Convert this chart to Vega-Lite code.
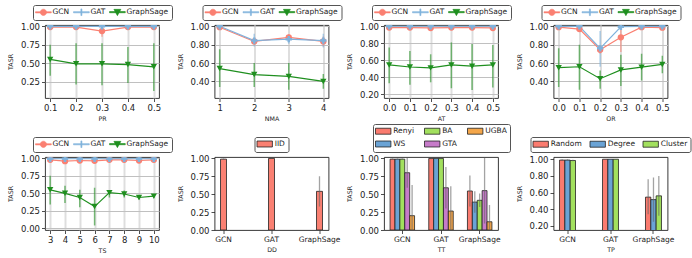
{
  "$schema": "https://vega.github.io/schema/vega-lite/v6.json",
  "padding": {"left": 7, "top": 4, "right": 0, "bottom": 0},
  "concat": [
    {
      "width": 114, "height": 73,
      "data": {"values": [
        {"x": 0.1, "model": "GCN", "mean": 0.99, "lo": 0.98, "hi": 1.0},
        {"x": 0.2, "model": "GCN", "mean": 0.99, "lo": 0.98, "hi": 1.0},
        {"x": 0.3, "model": "GCN", "mean": 0.935, "lo": 0.86, "hi": 1.0},
        {"x": 0.4, "model": "GCN", "mean": 0.99, "lo": 0.98, "hi": 1.0},
        {"x": 0.5, "model": "GCN", "mean": 0.99, "lo": 0.98, "hi": 1.0},
        {"x": 0.1, "model": "GAT", "mean": 1.0, "lo": 0.995, "hi": 1.0},
        {"x": 0.2, "model": "GAT", "mean": 1.0, "lo": 0.995, "hi": 1.0},
        {"x": 0.3, "model": "GAT", "mean": 1.0, "lo": 0.995, "hi": 1.0},
        {"x": 0.4, "model": "GAT", "mean": 1.0, "lo": 0.995, "hi": 1.0},
        {"x": 0.5, "model": "GAT", "mean": 1.0, "lo": 0.995, "hi": 1.0},
        {"x": 0.1, "model": "GraphSage", "mean": 0.55, "lo": 0.33, "hi": 0.75},
        {"x": 0.2, "model": "GraphSage", "mean": 0.49, "lo": 0.21, "hi": 0.77},
        {"x": 0.3, "model": "GraphSage", "mean": 0.49, "lo": 0.2, "hi": 0.77},
        {"x": 0.4, "model": "GraphSage", "mean": 0.48, "lo": 0.23, "hi": 0.72},
        {"x": 0.5, "model": "GraphSage", "mean": 0.45, "lo": 0.12, "hi": 0.77}
      ]},
      "encoding": {
        "x": {"field": "x", "type": "quantitative", "scale": {"domain": [0.08, 0.52], "nice": false, "zero": false}, "axis": {"title": "PR", "values": [0.1, 0.2, 0.3, 0.4, 0.5], "tickCount": 20, "format": ".1f", "grid": true, "gridColor": "#dedede", "gridWidth": 2, "labelOverlap": false}},
        "color": {"field": "model", "type": "nominal", "scale": {"domain": ["GCN", "GAT", "GraphSage"], "range": ["#fa8072", "#7fb2dc", "#1f8f1f"]}, "legend": {"title": null, "direction": "horizontal", "symbolOffset": 3.4, "labelOffset": 5, "columnPadding": 2, "symbolOpacity": 1, "symbolStrokeWidth": 0.6}}
      },
      "layer": [
        {"mark": {"type": "rule", "strokeWidth": 1.5, "opacity": 0.6, "clip": true}, "encoding": {"y": {"field": "lo", "type": "quantitative", "scale": {"domain": [0.026, 1.018], "nice": false, "zero": false}, "axis": {"title": "TASR", "values": [0.25, 0.5, 0.75, 1.0], "tickCount": 20, "format": ".2f", "grid": true, "gridColor": "#c0c0c0", "gridWidth": 1, "labelOverlap": false}}, "y2": {"field": "hi"}}},
        {"mark": {"type": "line", "strokeWidth": 1.2, "clip": true}, "encoding": {"y": {"field": "mean", "type": "quantitative"}}},
        {"mark": {"type": "point", "filled": true, "opacity": 0, "clip": true}, "encoding": {"y": {"field": "mean", "type": "quantitative"}, "shape": {"field": "model", "type": "nominal", "scale": {"domain": ["GCN", "GAT", "GraphSage"], "range": ["M-2.25,-0.17H2.25V0.17H-2.25ZM0.9,0A0.9,0.9,0,1,1,-0.9,0A0.9,0.9,0,1,1,0.9,0Z", "M-2.25,-0.17H2.25V0.17H-2.25ZM-0.15,-0.95H0.15V0.95H-0.15Z", "M-2.25,-0.17H2.25V0.17H-2.25ZM-1,-0.8H1L0,1Z"]}, "legend": {"title": null, "direction": "horizontal", "symbolOffset": 3.4, "labelOffset": 5, "columnPadding": 2, "symbolOpacity": 1, "symbolStrokeWidth": 0.6}}}},
        {"mark": {"type": "point", "filled": true, "opacity": 1, "size": 40, "clip": true}, "encoding": {"y": {"field": "mean", "type": "quantitative"}, "shape": {"condition": [{"test": "datum.model === 'GCN'", "value": "circle"}, {"test": "datum.model === 'GAT'", "value": "cross"}], "value": "triangle-down"}}}
      ]
    },
    {
      "width": 114, "height": 73,
      "data": {"values": [
        {"x": 1, "model": "GCN", "mean": 0.99, "lo": 0.98, "hi": 1.0},
        {"x": 2, "model": "GCN", "mean": 0.835, "lo": 0.8, "hi": 0.87},
        {"x": 3, "model": "GCN", "mean": 0.88, "lo": 0.85, "hi": 0.91},
        {"x": 4, "model": "GCN", "mean": 0.835, "lo": 0.78, "hi": 0.89},
        {"x": 1, "model": "GAT", "mean": 1.0, "lo": 0.99, "hi": 1.0},
        {"x": 2, "model": "GAT", "mean": 0.845, "lo": 0.78, "hi": 0.92},
        {"x": 3, "model": "GAT", "mean": 0.86, "lo": 0.81, "hi": 0.91},
        {"x": 4, "model": "GAT", "mean": 0.845, "lo": 0.77, "hi": 0.92},
        {"x": 1, "model": "GraphSage", "mean": 0.54, "lo": 0.34, "hi": 0.75},
        {"x": 2, "model": "GraphSage", "mean": 0.475, "lo": 0.34, "hi": 0.6},
        {"x": 3, "model": "GraphSage", "mean": 0.455, "lo": 0.31, "hi": 0.6},
        {"x": 4, "model": "GraphSage", "mean": 0.4, "lo": 0.32, "hi": 0.48}
      ]},
      "encoding": {
        "x": {"field": "x", "type": "quantitative", "scale": {"domain": [0.85, 4.15], "nice": false, "zero": false}, "axis": {"title": "NMA", "values": [1, 2, 3, 4], "tickCount": 20, "format": "d", "grid": true, "gridColor": "#dedede", "gridWidth": 2, "labelOverlap": false}},
        "color": {"field": "model", "type": "nominal", "scale": {"domain": ["GCN", "GAT", "GraphSage"], "range": ["#fa8072", "#7fb2dc", "#1f8f1f"]}, "legend": {"title": null, "direction": "horizontal", "symbolOffset": 3.4, "labelOffset": 5, "columnPadding": 2, "symbolOpacity": 1, "symbolStrokeWidth": 0.6}}
      },
      "layer": [
        {"mark": {"type": "rule", "strokeWidth": 1.5, "opacity": 0.6, "clip": true}, "encoding": {"y": {"field": "lo", "type": "quantitative", "scale": {"domain": [0.22, 1.014], "nice": false, "zero": false}, "axis": {"title": "TASR", "values": [0.4, 0.6, 0.8, 1.0], "tickCount": 20, "format": ".2f", "grid": true, "gridColor": "#c0c0c0", "gridWidth": 1, "labelOverlap": false}}, "y2": {"field": "hi"}}},
        {"mark": {"type": "line", "strokeWidth": 1.2, "clip": true}, "encoding": {"y": {"field": "mean", "type": "quantitative"}}},
        {"mark": {"type": "point", "filled": true, "opacity": 0, "clip": true}, "encoding": {"y": {"field": "mean", "type": "quantitative"}, "shape": {"field": "model", "type": "nominal", "scale": {"domain": ["GCN", "GAT", "GraphSage"], "range": ["M-2.25,-0.17H2.25V0.17H-2.25ZM0.9,0A0.9,0.9,0,1,1,-0.9,0A0.9,0.9,0,1,1,0.9,0Z", "M-2.25,-0.17H2.25V0.17H-2.25ZM-0.15,-0.95H0.15V0.95H-0.15Z", "M-2.25,-0.17H2.25V0.17H-2.25ZM-1,-0.8H1L0,1Z"]}, "legend": {"title": null, "direction": "horizontal", "symbolOffset": 3.4, "labelOffset": 5, "columnPadding": 2, "symbolOpacity": 1, "symbolStrokeWidth": 0.6}}}},
        {"mark": {"type": "point", "filled": true, "opacity": 1, "size": 40, "clip": true}, "encoding": {"y": {"field": "mean", "type": "quantitative"}, "shape": {"condition": [{"test": "datum.model === 'GCN'", "value": "circle"}, {"test": "datum.model === 'GAT'", "value": "cross"}], "value": "triangle-down"}}}
      ]
    },
    {
      "width": 114, "height": 73,
      "data": {"values": [
        {"x": 0.0, "model": "GCN", "mean": 0.985, "lo": 0.975, "hi": 0.995},
        {"x": 0.1, "model": "GCN", "mean": 0.985, "lo": 0.975, "hi": 0.995},
        {"x": 0.2, "model": "GCN", "mean": 0.98, "lo": 0.97, "hi": 0.99},
        {"x": 0.3, "model": "GCN", "mean": 0.985, "lo": 0.975, "hi": 0.995},
        {"x": 0.4, "model": "GCN", "mean": 0.985, "lo": 0.975, "hi": 0.995},
        {"x": 0.5, "model": "GCN", "mean": 0.98, "lo": 0.97, "hi": 0.99},
        {"x": 0.0, "model": "GAT", "mean": 1.0, "lo": 0.995, "hi": 1.0},
        {"x": 0.1, "model": "GAT", "mean": 1.0, "lo": 0.995, "hi": 1.0},
        {"x": 0.2, "model": "GAT", "mean": 1.0, "lo": 0.995, "hi": 1.0},
        {"x": 0.3, "model": "GAT", "mean": 1.0, "lo": 0.995, "hi": 1.0},
        {"x": 0.4, "model": "GAT", "mean": 1.0, "lo": 0.995, "hi": 1.0},
        {"x": 0.5, "model": "GAT", "mean": 1.0, "lo": 0.995, "hi": 1.0},
        {"x": 0.0, "model": "GraphSage", "mean": 0.545, "lo": 0.33, "hi": 0.75},
        {"x": 0.1, "model": "GraphSage", "mean": 0.52, "lo": 0.31, "hi": 0.71},
        {"x": 0.2, "model": "GraphSage", "mean": 0.51, "lo": 0.34, "hi": 0.67},
        {"x": 0.3, "model": "GraphSage", "mean": 0.545, "lo": 0.27, "hi": 0.81},
        {"x": 0.4, "model": "GraphSage", "mean": 0.53, "lo": 0.25, "hi": 0.79},
        {"x": 0.5, "model": "GraphSage", "mean": 0.545, "lo": 0.28, "hi": 0.78}
      ]},
      "encoding": {
        "x": {"field": "x", "type": "quantitative", "scale": {"domain": [-0.025, 0.525], "nice": false, "zero": false}, "axis": {"title": "AT", "values": [0, 0.1, 0.2, 0.3, 0.4, 0.5], "tickCount": 20, "format": ".1f", "grid": true, "gridColor": "#dedede", "gridWidth": 2, "labelOverlap": false}},
        "color": {"field": "model", "type": "nominal", "scale": {"domain": ["GCN", "GAT", "GraphSage"], "range": ["#fa8072", "#7fb2dc", "#1f8f1f"]}, "legend": {"title": null, "direction": "horizontal", "symbolOffset": 3.4, "labelOffset": 5, "columnPadding": 2, "symbolOpacity": 1, "symbolStrokeWidth": 0.6}}
      },
      "layer": [
        {"mark": {"type": "rule", "strokeWidth": 1.5, "opacity": 0.6, "clip": true}, "encoding": {"y": {"field": "lo", "type": "quantitative", "scale": {"domain": [0.155, 1.015], "nice": false, "zero": false}, "axis": {"title": "TASR", "values": [0.2, 0.4, 0.6, 0.8, 1.0], "tickCount": 20, "format": ".2f", "grid": true, "gridColor": "#c0c0c0", "gridWidth": 1, "labelOverlap": false}}, "y2": {"field": "hi"}}},
        {"mark": {"type": "line", "strokeWidth": 1.2, "clip": true}, "encoding": {"y": {"field": "mean", "type": "quantitative"}}},
        {"mark": {"type": "point", "filled": true, "opacity": 0, "clip": true}, "encoding": {"y": {"field": "mean", "type": "quantitative"}, "shape": {"field": "model", "type": "nominal", "scale": {"domain": ["GCN", "GAT", "GraphSage"], "range": ["M-2.25,-0.17H2.25V0.17H-2.25ZM0.9,0A0.9,0.9,0,1,1,-0.9,0A0.9,0.9,0,1,1,0.9,0Z", "M-2.25,-0.17H2.25V0.17H-2.25ZM-0.15,-0.95H0.15V0.95H-0.15Z", "M-2.25,-0.17H2.25V0.17H-2.25ZM-1,-0.8H1L0,1Z"]}, "legend": {"title": null, "direction": "horizontal", "symbolOffset": 3.4, "labelOffset": 5, "columnPadding": 2, "symbolOpacity": 1, "symbolStrokeWidth": 0.6}}}},
        {"mark": {"type": "point", "filled": true, "opacity": 1, "size": 40, "clip": true}, "encoding": {"y": {"field": "mean", "type": "quantitative"}, "shape": {"condition": [{"test": "datum.model === 'GCN'", "value": "circle"}, {"test": "datum.model === 'GAT'", "value": "cross"}], "value": "triangle-down"}}}
      ]
    },
    {
      "width": 114, "height": 73,
      "data": {"values": [
        {"x": 0.0, "model": "GCN", "mean": 0.99, "lo": 0.98, "hi": 1.0},
        {"x": 0.1, "model": "GCN", "mean": 0.97, "lo": 0.94, "hi": 1.0},
        {"x": 0.2, "model": "GCN", "mean": 0.745, "lo": 0.7, "hi": 0.79},
        {"x": 0.3, "model": "GCN", "mean": 0.88, "lo": 0.72, "hi": 1.0},
        {"x": 0.4, "model": "GCN", "mean": 0.99, "lo": 0.98, "hi": 1.0},
        {"x": 0.5, "model": "GCN", "mean": 0.985, "lo": 0.97, "hi": 1.0},
        {"x": 0.0, "model": "GAT", "mean": 1.0, "lo": 0.995, "hi": 1.0},
        {"x": 0.1, "model": "GAT", "mean": 1.0, "lo": 0.995, "hi": 1.0},
        {"x": 0.2, "model": "GAT", "mean": 0.76, "lo": 0.56, "hi": 0.95},
        {"x": 0.3, "model": "GAT", "mean": 0.995, "lo": 0.985, "hi": 1.0},
        {"x": 0.4, "model": "GAT", "mean": 1.0, "lo": 0.995, "hi": 1.0},
        {"x": 0.5, "model": "GAT", "mean": 1.0, "lo": 0.995, "hi": 1.0},
        {"x": 0.0, "model": "GraphSage", "mean": 0.55, "lo": 0.34, "hi": 0.76},
        {"x": 0.1, "model": "GraphSage", "mean": 0.56, "lo": 0.31, "hi": 0.8},
        {"x": 0.2, "model": "GraphSage", "mean": 0.43, "lo": 0.32, "hi": 0.52},
        {"x": 0.3, "model": "GraphSage", "mean": 0.525, "lo": 0.35, "hi": 0.69},
        {"x": 0.4, "model": "GraphSage", "mean": 0.555, "lo": 0.41, "hi": 0.7},
        {"x": 0.5, "model": "GraphSage", "mean": 0.585, "lo": 0.49, "hi": 0.68}
      ]},
      "encoding": {
        "x": {"field": "x", "type": "quantitative", "scale": {"domain": [-0.025, 0.525], "nice": false, "zero": false}, "axis": {"title": "OR", "values": [0, 0.1, 0.2, 0.3, 0.4, 0.5], "tickCount": 20, "format": ".1f", "grid": true, "gridColor": "#dedede", "gridWidth": 2, "labelOverlap": false}},
        "color": {"field": "model", "type": "nominal", "scale": {"domain": ["GCN", "GAT", "GraphSage"], "range": ["#fa8072", "#7fb2dc", "#1f8f1f"]}, "legend": {"title": null, "direction": "horizontal", "symbolOffset": 3.4, "labelOffset": 5, "columnPadding": 2, "symbolOpacity": 1, "symbolStrokeWidth": 0.6}}
      },
      "layer": [
        {"mark": {"type": "rule", "strokeWidth": 1.5, "opacity": 0.6, "clip": true}, "encoding": {"y": {"field": "lo", "type": "quantitative", "scale": {"domain": [0.22, 1.014], "nice": false, "zero": false}, "axis": {"title": "TASR", "values": [0.4, 0.6, 0.8, 1.0], "tickCount": 20, "format": ".2f", "grid": true, "gridColor": "#c0c0c0", "gridWidth": 1, "labelOverlap": false}}, "y2": {"field": "hi"}}},
        {"mark": {"type": "line", "strokeWidth": 1.2, "clip": true}, "encoding": {"y": {"field": "mean", "type": "quantitative"}}},
        {"mark": {"type": "point", "filled": true, "opacity": 0, "clip": true}, "encoding": {"y": {"field": "mean", "type": "quantitative"}, "shape": {"field": "model", "type": "nominal", "scale": {"domain": ["GCN", "GAT", "GraphSage"], "range": ["M-2.25,-0.17H2.25V0.17H-2.25ZM0.9,0A0.9,0.9,0,1,1,-0.9,0A0.9,0.9,0,1,1,0.9,0Z", "M-2.25,-0.17H2.25V0.17H-2.25ZM-0.15,-0.95H0.15V0.95H-0.15Z", "M-2.25,-0.17H2.25V0.17H-2.25ZM-1,-0.8H1L0,1Z"]}, "legend": {"title": null, "direction": "horizontal", "symbolOffset": 3.4, "labelOffset": 5, "columnPadding": 2, "symbolOpacity": 1, "symbolStrokeWidth": 0.6}}}},
        {"mark": {"type": "point", "filled": true, "opacity": 1, "size": 40, "clip": true}, "encoding": {"y": {"field": "mean", "type": "quantitative"}, "shape": {"condition": [{"test": "datum.model === 'GCN'", "value": "circle"}, {"test": "datum.model === 'GAT'", "value": "cross"}], "value": "triangle-down"}}}
      ]
    },
    {
      "width": 114, "height": 73,
      "data": {"values": [
        {"x": 3, "model": "GCN", "mean": 0.98, "lo": 0.96, "hi": 1.0},
        {"x": 4, "model": "GCN", "mean": 0.96, "lo": 0.94, "hi": 0.98},
        {"x": 5, "model": "GCN", "mean": 0.97, "lo": 0.95, "hi": 0.99},
        {"x": 6, "model": "GCN", "mean": 0.965, "lo": 0.945, "hi": 0.985},
        {"x": 7, "model": "GCN", "mean": 0.98, "lo": 0.96, "hi": 1.0},
        {"x": 8, "model": "GCN", "mean": 0.98, "lo": 0.96, "hi": 1.0},
        {"x": 9, "model": "GCN", "mean": 0.97, "lo": 0.95, "hi": 0.99},
        {"x": 10, "model": "GCN", "mean": 0.98, "lo": 0.96, "hi": 1.0},
        {"x": 3, "model": "GAT", "mean": 0.995, "lo": 0.99, "hi": 1.0},
        {"x": 4, "model": "GAT", "mean": 0.995, "lo": 0.99, "hi": 1.0},
        {"x": 5, "model": "GAT", "mean": 0.995, "lo": 0.99, "hi": 1.0},
        {"x": 6, "model": "GAT", "mean": 0.995, "lo": 0.99, "hi": 1.0},
        {"x": 7, "model": "GAT", "mean": 0.995, "lo": 0.99, "hi": 1.0},
        {"x": 8, "model": "GAT", "mean": 0.995, "lo": 0.99, "hi": 1.0},
        {"x": 9, "model": "GAT", "mean": 0.995, "lo": 0.99, "hi": 1.0},
        {"x": 10, "model": "GAT", "mean": 0.995, "lo": 0.99, "hi": 1.0},
        {"x": 3, "model": "GraphSage", "mean": 0.55, "lo": 0.34, "hi": 0.75},
        {"x": 4, "model": "GraphSage", "mean": 0.5, "lo": 0.36, "hi": 0.61},
        {"x": 5, "model": "GraphSage", "mean": 0.44, "lo": 0.3, "hi": 0.55},
        {"x": 6, "model": "GraphSage", "mean": 0.31, "lo": 0.04, "hi": 0.58},
        {"x": 7, "model": "GraphSage", "mean": 0.51, "lo": 0.44, "hi": 0.54},
        {"x": 8, "model": "GraphSage", "mean": 0.49, "lo": 0.44, "hi": 0.54},
        {"x": 9, "model": "GraphSage", "mean": 0.44, "lo": 0.41, "hi": 0.47},
        {"x": 10, "model": "GraphSage", "mean": 0.46, "lo": 0.43, "hi": 0.49}
      ]},
      "encoding": {
        "x": {"field": "x", "type": "quantitative", "scale": {"domain": [2.65, 10.35], "nice": false, "zero": false}, "axis": {"title": "TS", "values": [3, 4, 5, 6, 7, 8, 9, 10], "tickCount": 20, "format": "d", "grid": true, "gridColor": "#dedede", "gridWidth": 2, "labelOverlap": false}},
        "color": {"field": "model", "type": "nominal", "scale": {"domain": ["GCN", "GAT", "GraphSage"], "range": ["#fa8072", "#7fb2dc", "#1f8f1f"]}, "legend": {"title": null, "direction": "horizontal", "symbolOffset": 3.4, "labelOffset": 5, "columnPadding": 2, "symbolOpacity": 1, "symbolStrokeWidth": 0.6}}
      },
      "layer": [
        {"mark": {"type": "rule", "strokeWidth": 1.5, "opacity": 0.6, "clip": true}, "encoding": {"y": {"field": "lo", "type": "quantitative", "scale": {"domain": [-0.025, 1.02], "nice": false, "zero": false}, "axis": {"title": "TASR", "values": [0, 0.25, 0.5, 0.75, 1.0], "tickCount": 20, "format": ".2f", "grid": true, "gridColor": "#c0c0c0", "gridWidth": 1, "labelOverlap": false}}, "y2": {"field": "hi"}}},
        {"mark": {"type": "line", "strokeWidth": 1.2, "clip": true}, "encoding": {"y": {"field": "mean", "type": "quantitative"}}},
        {"mark": {"type": "point", "filled": true, "opacity": 0, "clip": true}, "encoding": {"y": {"field": "mean", "type": "quantitative"}, "shape": {"field": "model", "type": "nominal", "scale": {"domain": ["GCN", "GAT", "GraphSage"], "range": ["M-2.25,-0.17H2.25V0.17H-2.25ZM0.9,0A0.9,0.9,0,1,1,-0.9,0A0.9,0.9,0,1,1,0.9,0Z", "M-2.25,-0.17H2.25V0.17H-2.25ZM-0.15,-0.95H0.15V0.95H-0.15Z", "M-2.25,-0.17H2.25V0.17H-2.25ZM-1,-0.8H1L0,1Z"]}, "legend": {"title": null, "direction": "horizontal", "symbolOffset": 3.4, "labelOffset": 5, "columnPadding": 2, "symbolOpacity": 1, "symbolStrokeWidth": 0.6}}}},
        {"mark": {"type": "point", "filled": true, "opacity": 1, "size": 40, "clip": true}, "encoding": {"y": {"field": "mean", "type": "quantitative"}, "shape": {"condition": [{"test": "datum.model === 'GCN'", "value": "circle"}, {"test": "datum.model === 'GAT'", "value": "cross"}], "value": "triangle-down"}}}
      ]
    },
    {
      "width": 114, "height": 73,
      "data": {"values": [
        {"group": "GCN", "series": "IID", "mean": 0.99, "lo": 0.98, "hi": 1.0},
        {"group": "GAT", "series": "IID", "mean": 1.0, "lo": 0.995, "hi": 1.0},
        {"group": "GraphSage", "series": "IID", "mean": 0.54, "lo": 0.33, "hi": 0.75}
      ]},
      "encoding": {
        "x": {"field": "group", "type": "nominal", "sort": ["GCN", "GAT", "GraphSage"], "scale": {"paddingInner": 0.875, "paddingOuter": 0.125}, "axis": {"title": "DD", "labelAngle": 0, "labelFontSize": 7.5, "labelOverlap": false}}
      },
      "layer": [
        {"mark": {"type": "bar", "stroke": "#222", "strokeWidth": 0.8, "clip": true}, "encoding": {
          "y": {"field": "mean", "type": "quantitative", "scale": {"domain": [0, 1.02], "nice": false, "zero": false}, "axis": {"title": "TASR", "values": [0, 0.25, 0.5, 0.75, 1.0], "tickCount": 20, "format": ".2f", "labelOverlap": false}},
          "color": {"field": "series", "type": "nominal", "scale": {"domain": ["IID"], "range": ["#fa8072"]}, "legend": {"title": null, "direction": "horizontal", "symbolType": "M-2.2,-0.85H2.2V0.85H-2.2Z", "symbolOffset": 3.2, "labelOffset": 6, "columnPadding": 6, "symbolStrokeColor": "#222", "symbolStrokeWidth": 0.8}}
        }},
        {"mark": {"type": "rule", "color": "#666", "opacity": 0.6, "strokeWidth": 1.3, "clip": true}, "encoding": {"y": {"field": "lo", "type": "quantitative"}, "y2": {"field": "hi"}}}
      ]
    },
    {
      "width": 114, "height": 73,
      "data": {"values": [
        {"group": "GCN", "series": "Renyi", "mean": 0.99, "lo": 0.98, "hi": 1.0},
        {"group": "GCN", "series": "WS", "mean": 0.99, "lo": 0.98, "hi": 1.0},
        {"group": "GCN", "series": "BA", "mean": 0.99, "lo": 0.98, "hi": 1.0},
        {"group": "GCN", "series": "GTA", "mean": 0.8, "lo": 0.59, "hi": 1.01},
        {"group": "GCN", "series": "UGBA", "mean": 0.2, "lo": 0.0, "hi": 0.63},
        {"group": "GAT", "series": "Renyi", "mean": 1.0, "lo": 0.99, "hi": 1.0},
        {"group": "GAT", "series": "WS", "mean": 1.0, "lo": 0.99, "hi": 1.0},
        {"group": "GAT", "series": "BA", "mean": 1.0, "lo": 0.99, "hi": 1.0},
        {"group": "GAT", "series": "GTA", "mean": 0.59, "lo": 0.3, "hi": 0.88},
        {"group": "GAT", "series": "UGBA", "mean": 0.265, "lo": 0.0, "hi": 0.61},
        {"group": "GraphSage", "series": "Renyi", "mean": 0.545, "lo": 0.33, "hi": 0.76},
        {"group": "GraphSage", "series": "WS", "mean": 0.39, "lo": 0.24, "hi": 0.54},
        {"group": "GraphSage", "series": "BA", "mean": 0.415, "lo": 0.32, "hi": 0.51},
        {"group": "GraphSage", "series": "GTA", "mean": 0.55, "lo": 0.09, "hi": 1.01},
        {"group": "GraphSage", "series": "UGBA", "mean": 0.115, "lo": 0.0, "hi": 0.35}
      ]},
      "encoding": {
        "x": {"field": "group", "type": "nominal", "sort": ["GCN", "GAT", "GraphSage"], "scale": {"paddingInner": 0.367, "paddingOuter": 0.157}, "axis": {"title": "TT", "labelAngle": 0, "labelFontSize": 7.5, "labelOverlap": false}},
        "xOffset": {"field": "series", "type": "nominal", "sort": ["Renyi", "WS", "BA", "GTA", "UGBA"], "scale": {"paddingInner": 0, "paddingOuter": 0}}
      },
      "layer": [
        {"mark": {"type": "bar", "stroke": "#222", "strokeWidth": 0.8, "clip": true}, "encoding": {
          "y": {"field": "mean", "type": "quantitative", "scale": {"domain": [0, 1.02], "nice": false, "zero": false}, "axis": {"title": "TASR", "values": [0, 0.25, 0.5, 0.75, 1.0], "tickCount": 20, "format": ".2f", "labelOverlap": false}},
          "color": {"field": "series", "type": "nominal", "scale": {"domain": ["Renyi", "BA", "UGBA", "WS", "GTA"], "range": ["#fa7b6f", "#a2e05e", "#f4a64a", "#6aa3d5", "#c67bc9"]}, "legend": {"title": null, "direction": "horizontal", "columns": 3, "symbolType": "M-2.2,-0.85H2.2V0.85H-2.2Z", "symbolOffset": 3.2, "labelOffset": 6, "columnPadding": 8, "symbolStrokeColor": "#222", "symbolStrokeWidth": 0.8}}
        }},
        {"mark": {"type": "rule", "color": "#666", "opacity": 0.6, "strokeWidth": 1.3, "clip": true}, "encoding": {"y": {"field": "lo", "type": "quantitative"}, "y2": {"field": "hi"}}}
      ]
    },
    {
      "width": 114, "height": 73,
      "data": {"values": [
        {"group": "GCN", "series": "Random", "mean": 0.99, "lo": 0.98, "hi": 1.0},
        {"group": "GCN", "series": "Degree", "mean": 0.99, "lo": 0.98, "hi": 1.0},
        {"group": "GCN", "series": "Cluster", "mean": 0.985, "lo": 0.975, "hi": 0.995},
        {"group": "GAT", "series": "Random", "mean": 1.0, "lo": 0.99, "hi": 1.0},
        {"group": "GAT", "series": "Degree", "mean": 1.0, "lo": 0.99, "hi": 1.0},
        {"group": "GAT", "series": "Cluster", "mean": 1.0, "lo": 0.99, "hi": 1.0},
        {"group": "GraphSage", "series": "Random", "mean": 0.545, "lo": 0.34, "hi": 0.76},
        {"group": "GraphSage", "series": "Degree", "mean": 0.515, "lo": 0.25, "hi": 0.78},
        {"group": "GraphSage", "series": "Cluster", "mean": 0.56, "lo": 0.32, "hi": 0.8}
      ]},
      "encoding": {
        "x": {"field": "group", "type": "nominal", "sort": ["GCN", "GAT", "GraphSage"], "scale": {"paddingInner": 0.628, "paddingOuter": 0.14}, "axis": {"title": "TP", "labelAngle": 0, "labelFontSize": 7.5, "labelOverlap": false}},
        "xOffset": {"field": "series", "type": "nominal", "sort": ["Random", "Degree", "Cluster"], "scale": {"paddingInner": 0, "paddingOuter": 0}}
      },
      "layer": [
        {"mark": {"type": "bar", "stroke": "#222", "strokeWidth": 0.8, "clip": true}, "encoding": {
          "y": {"field": "mean", "type": "quantitative", "scale": {"domain": [0.15, 1.027], "nice": false, "zero": false}, "axis": {"title": "TASR", "values": [0.2, 0.4, 0.6, 0.8, 1.0], "tickCount": 20, "format": ".2f", "labelOverlap": false}},
          "y2": {"datum": 0},
          "color": {"field": "series", "type": "nominal", "scale": {"domain": ["Random", "Degree", "Cluster"], "range": ["#fa7b6f", "#6aa3d5", "#a2e05e"]}, "legend": {"title": null, "direction": "horizontal", "symbolType": "M-2.2,-0.85H2.2V0.85H-2.2Z", "symbolOffset": 3.2, "labelOffset": 6, "columnPadding": 5, "symbolStrokeColor": "#222", "symbolStrokeWidth": 0.8}}
        }},
        {"mark": {"type": "rule", "color": "#666", "opacity": 0.6, "strokeWidth": 1.3, "clip": true}, "encoding": {"y": {"field": "lo", "type": "quantitative"}, "y2": {"field": "hi"}}}
      ]
    }
  ],
  "columns": 4,
  "spacing": {"row": 59, "column": 55.5},
  "bounds": "flush",
  "resolve": {"scale": {"x": "independent", "y": "independent", "color": "independent", "shape": "independent", "xOffset": "independent"}, "legend": {"color": "independent", "shape": "independent"}, "axis": {"x": "independent", "y": "independent"}},
  "config": {
    "font": "DejaVu Sans",
    "view": {"stroke": "#222", "strokeWidth": 0.9},
    "axis": {"domain": false, "tickColor": "#222", "tickSize": 3.5, "tickWidth": 0.8, "labelColor": "#222", "labelFontSize": 8.5, "labelPadding": 2, "labelOverlap": false, "titleFontSize": 6.3, "titleFontWeight": "normal", "titleColor": "#222", "labelFlush": false, "grid": false},
    "axisX": {"titlePadding": 3},
    "axisY": {"titlePadding": 7},
    "legend": {"orient": "top", "offset": 5, "padding": 3, "strokeColor": "#555", "cornerRadius": 2, "labelFontSize": 7.5, "labelColor": "#222", "symbolSize": 49, "rowPadding": 3, "layout": {"top": {"anchor": "middle"}}}
  }
}
